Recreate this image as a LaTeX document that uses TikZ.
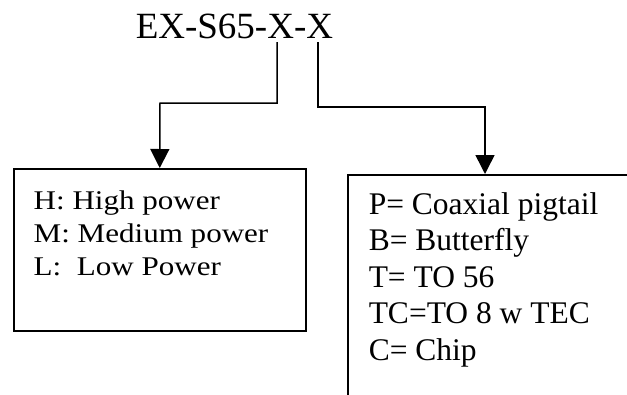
\documentclass[tikz,border=0pt]{standalone}
\usepackage{fontspec}
\setmainfont{Liberation Serif}
\newfontfamily\widefont[FakeStretch=1.15]{Liberation Serif}
\usetikzlibrary{arrows.meta}
\usetikzlibrary{positioning}

\begin{document}
\begin{tikzpicture}[
  x=1pt, y=-1pt, line width=1.5pt,
  every node/.style={inner sep=0pt},
  box/.style={draw, rectangle},
  list/.style={anchor=base west, align=left},
]
\tikzset{>={Triangle[length=19pt, width=19pt]}}
\useasboundingbox (0,0) rectangle (627,394);
\clip (0,0) rectangle (627,394);

\node (code) [anchor=base west, font=\fontsize{37}{40}\selectfont] at (135,38) {EX-S65-X-X};

\node (power) [box, minimum width=292pt, minimum height=162pt, anchor=north west] at (13,168) {};
\node (pack) [box, minimum width=300pt, minimum height=240pt, anchor=north west] at (347,174) {};

% base of a list is the baseline of its last line
\node (powertxt) [list, font=\widefont\fontsize{27}{33}\selectfont] at (33,275)
  {H: High power\\M: Medium power\\L:\ \ Low Power};
\node (packtxt) [list, font=\fontsize{31.5}{36.5}\selectfont] at (368,360)
  {P= Coaxial pigtail\\B= Butterfly\\T= TO 56\\TC=TO 8 w TEC\\C= Chip};

% connectors from the two X fields
\coordinate (x1) at (277,42);
\coordinate (x2) at (318,42);
\coordinate (ptip) at (485,174);

\draw[->] (x1) |- (160,103) -- (power.north);
\draw[->] (x2) |- (485,107) -- (ptip);
\end{tikzpicture}
\end{document}
